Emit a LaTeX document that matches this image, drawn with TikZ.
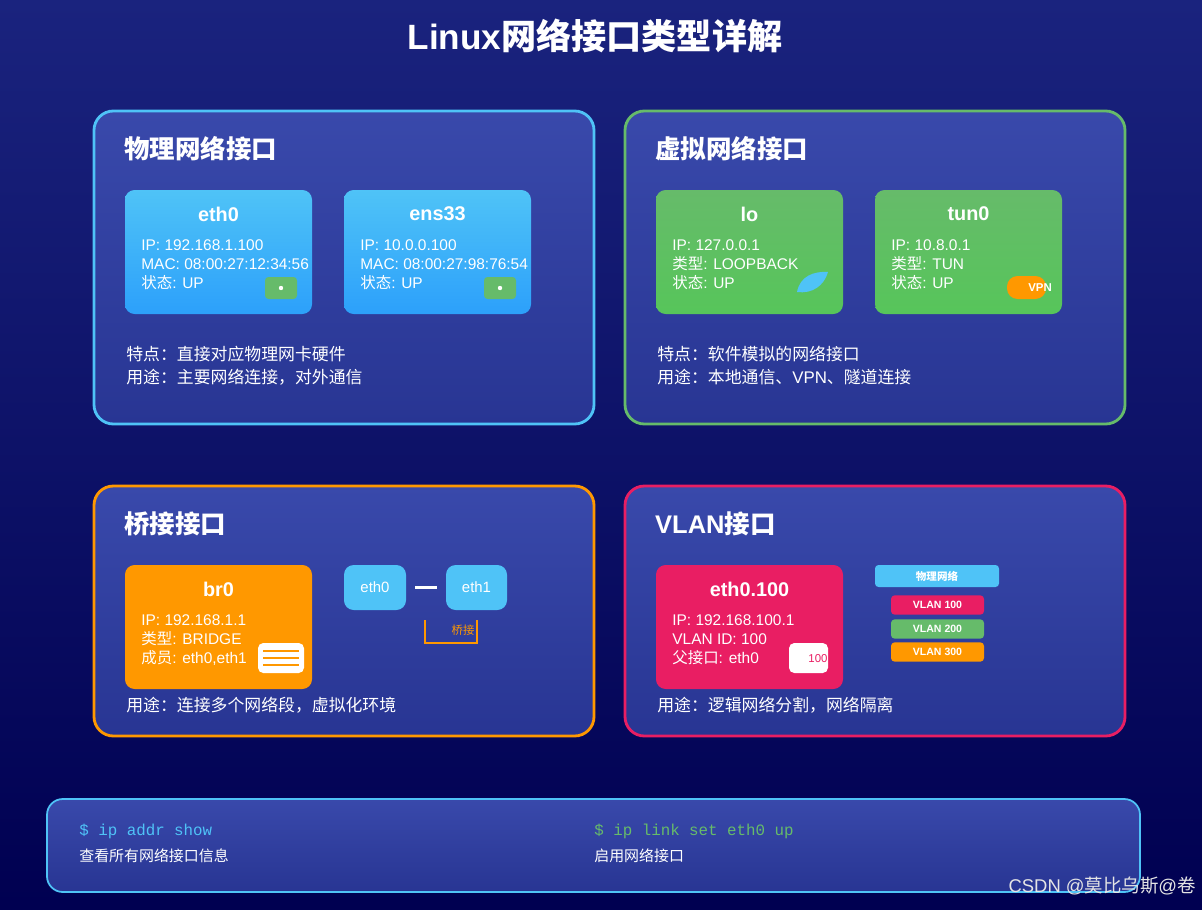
\documentclass[tikz,border=0pt]{standalone}
\usepackage{fontspec}
\setmainfont{Liberation Sans}
\newfontfamily\cjk{Noto Sans CJK SC}
\setmonofont{Liberation Mono}
\usetikzlibrary{positioning,shapes.misc}
\newcommand{\zh}[1]{{\cjk #1}}
\definecolor{bgtop}{HTML}{1A237E}
\definecolor{bgbot}{HTML}{000051}
\definecolor{paneltop}{HTML}{3949AB}
\definecolor{panelbot}{HTML}{283593}
\definecolor{skyblue}{HTML}{4FC3F7}
\definecolor{leafgreen}{HTML}{66BB6A}
\definecolor{amber}{HTML}{FF9800}
\definecolor{rosered}{HTML}{E91E63}
\begin{document}
\begin{tikzpicture}[x=0.02cm,y=-0.02cm]

	\tikzstyle{panel}=[rounded corners=11pt,line width=1.6pt,top color=paneltop,bottom color=panelbot]
	\tikzstyle{card}=[rounded corners=5.5pt,draw=none]
	\tikzstyle{bluecard}=[card,top color=skyblue,bottom color=skyblue!70!blue!80!cyan]
	\tikzstyle{greencard}=[card,top color=leafgreen,bottom color=leafgreen!85!green]
	\tikzstyle{ptitle}=[anchor=west,text=white,font=\bfseries\fontsize{14.5}{16}\selectfont]
	\tikzstyle{ctitle}=[text=white,font=\bfseries\fontsize{11.3}{13}\selectfont]
	\tikzstyle{cinfo}=[anchor=north west,text=white,align=left,inner sep=0,font=\fontsize{8.8}{10.8}\selectfont]
	\tikzstyle{desc}=[anchor=north west,text=white,align=left,inner sep=0,font=\fontsize{9.6}{13}\selectfont]
	\tikzstyle{chip}=[rounded corners=2pt,draw=none,text=white,font=\bfseries\fontsize{6}{7}\selectfont]

	% background
	\shade[top color=bgtop,bottom color=bgbot] (0,0) rectangle (1202,909);
	\useasboundingbox (0,0) rectangle (1202,909);

	\node[text=white,font=\bfseries\fontsize{20}{24}\selectfont] (title) at (595,36) {Linux\zh{网络接口类型详解}};

	% panels
	\draw[panel,draw=skyblue] (94,111) rectangle (594,424);
	\draw[panel,draw=leafgreen] (625,111) rectangle (1125,424);
	\draw[panel,draw=amber] (94,486) rectangle (594,736);
	\draw[panel,draw=rosered] (625,486) rectangle (1125,736);
	\node[ptitle] (tphys) at (118,149) {\zh{物理网络接口}};
	\node[ptitle] (tvirt) at (649,149) {\zh{虚拟网络接口}};
	\node[ptitle] (tbridge) at (118,524) {\zh{桥接接口}};
	\node[ptitle] (tvlan) at (649,524) {VLAN\zh{接口}};

	% physical
	\path[bluecard] (125,190) rectangle (312,314);
	\path[bluecard] (344,190) rectangle (531,314);
	\node[ctitle] (eth) at (218.5,214) {eth0};
	\node[ctitle] (ens) at (437.5,214) {ens33};
	\node[cinfo] (ethinfo) at (141,239) {IP: 192.168.1.100\\MAC: 08:00:27:12:34:56\\\zh{状态}: UP};
	\node[cinfo] (ensinfo) at (360,239) {IP: 10.0.0.100\\MAC: 08:00:27:98:76:54\\\zh{状态}: UP};
	\foreach \bx in {265,484}{
		\fill[leafgreen,rounded corners=2pt] (\bx,277) rectangle (\bx+32,299);
		\fill[white] (\bx+16,288) circle (2.2);
	}
	\node[desc] (physdesc) at (126,346) {\zh{特点：直接对应物理网卡硬件}\\\zh{用途：主要网络连接，对外通信}};

	% virtual
	\path[greencard] (656,190) rectangle (843,314);
	\path[greencard] (875,190) rectangle (1062,314);
	\node[ctitle] (lo) at (749.5,214) {lo};
	\node[ctitle] (tun) at (968.5,214) {tun0};
	\node[cinfo] (loinfo) at (672,239) {IP: 127.0.0.1\\\zh{类型}: LOOPBACK\\\zh{状态}: UP};
	\node[cinfo] (tuninfo) at (891,239) {IP: 10.8.0.1\\\zh{类型}: TUN\\\zh{状态}: UP};
	\fill[skyblue] (797,292) .. controls (800,276) and (814,271) .. (828,272) .. controls (824,286) and (812,294) .. (797,292);
	\fill[amber,rounded corners=6pt] (1007,276) rectangle (1046,299);
	\node[chip,font=\bfseries\fontsize{6.5}{7}\selectfont] (vpn) at (1040,288) {VPN};
	\node[desc] (virtdesc) at (657,346) {\zh{特点：软件模拟的网络接口}\\\zh{用途：本地通信、}VPN\zh{、隧道连接}};

	% bridge
	\fill[amber,card] (125,565) rectangle (312,689);
	\node[ctitle] (br) at (218.5,589) {br0};
	\node[cinfo] (brinfo) at (141,614) {IP: 192.168.1.1\\\zh{类型}: BRIDGE\\\zh{成员}: eth0,eth1};
	\fill[white,rounded corners=3pt] (258,643) rectangle (304,673);
	\foreach \ly in {651,658,665}
		\draw[amber,line width=0.6pt] (263,\ly) -- (299,\ly);
	\node[card,fill=skyblue,minimum width=1.24cm,minimum height=0.9cm,text=white,font=\fontsize{8.5}{10}\selectfont] (beth0) at (375,587.5) {eth0};
	\node[card,fill=skyblue,minimum width=1.22cm,minimum height=0.9cm,text=white,font=\fontsize{8.5}{10}\selectfont] (beth1) at (476.5,587.5) {eth1};
	\draw[white,line width=1.6pt] ([xshift=5pt]beth0.east) -- ([xshift=-5pt]beth1.west);
	\coordinate (brl) at (425,620);
	\coordinate (brr) at (477,620);
	\draw[amber,line width=1.4pt] (brl) -- ++(0,23) -| (brr);
	\node[text=amber,font=\cjk\fontsize{6.5}{7}\selectfont] (brlabel) at (463,630) {桥接};
	\node[desc] (brdesc) at (126,697) {\zh{用途：连接多个网络段，虚拟化环境}};

	% vlan
	\fill[rosered,card] (656,565) rectangle (843,689);
	\node[ctitle] (vl) at (749.5,589) {eth0.100};
	\node[cinfo] (vlinfo) at (672,614) {IP: 192.168.100.1\\VLAN ID: 100\\\zh{父接口}: eth0};
	\fill[white,rounded corners=3pt] (789,643) rectangle (828,673);
	\node[text=rosered,font=\fontsize{6.5}{7}\selectfont] (vlid) at (818,659) {100};
	\node[chip,fill=skyblue,minimum width=2.48cm,minimum height=0.44cm,font=\cjk\bfseries\fontsize{6}{7}\selectfont] (phynet) at (937,576) {物理网络};
	\node[chip,fill=rosered,minimum width=1.86cm,minimum height=0.36cm] (v100) at (937.5,605) {VLAN 100};
	\node[chip,fill=leafgreen,minimum width=1.86cm,minimum height=0.36cm] (v200) at (937.5,629) {VLAN 200};
	\node[chip,fill=amber,minimum width=1.86cm,minimum height=0.36cm] (v300) at (937.5,652) {VLAN 300};
	\node[desc] (vldesc) at (657,697) {\zh{用途：逻辑网络分割，网络隔离}};

	% commands
	\draw[rounded corners=9pt,draw=skyblue,line width=1pt,top color=paneltop,bottom color=panelbot] (47,799) rectangle (1140,892);
	\node[anchor=west,inner sep=0,text=skyblue,font=\ttfamily\fontsize{9}{10}\selectfont] (cmd1) at (79,831) {\$ ip addr show};
	\node[anchor=west,inner sep=0,text=white,font=\cjk\fontsize{8.5}{10}\selectfont] (cmd1d) at (79,856) {查看所有网络接口信息};
	\node[anchor=west,inner sep=0,text=leafgreen,font=\ttfamily\fontsize{9}{10}\selectfont] (cmd2) at (594,831) {\$ ip link set eth0 up};
	\node[anchor=west,inner sep=0,text=white,font=\cjk\fontsize{8.5}{10}\selectfont] (cmd2d) at (594,856) {启用网络接口};
	\node[anchor=east,inner sep=0,text=white!80!gray,font=\fontsize{10.5}{12}\selectfont] (mark) at (1196,886) {CSDN @\zh{莫比乌斯}@\zh{卷}};

\end{tikzpicture}
\end{document}
